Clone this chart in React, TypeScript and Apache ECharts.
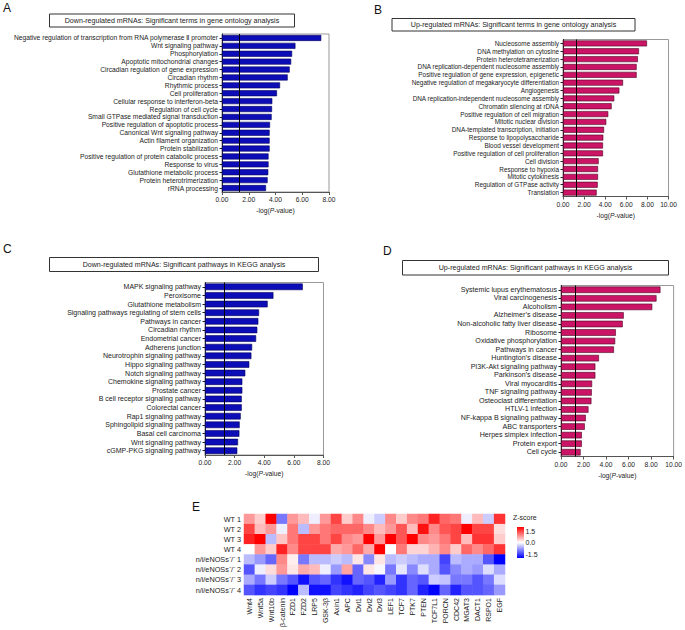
import React, { useEffect, useRef } from 'react';
import * as echarts from 'echarts';

// ---------- Data ----------
const THRESHOLD = 1.3; // -log10(0.05)

const A_TERMS = [
  'Negative regulation of transcription from RNA polymerase Ⅱ promoter',
  'Wnt signaling pathway',
  'Phosphorylation',
  'Apoptotic mitochondrial changes',
  'Circadian regulation of gene expression',
  'Circadian rhythm',
  'Rhythmic process',
  'Cell proliferation',
  'Cellular response to interferon-beta',
  'Regulation of cell cycle',
  'Small GTPase mediated signal transduction',
  'Positive regulation of apoptotic process',
  'Canonical Wnt signaling pathway',
  'Actin filament organization',
  'Protein stabilization',
  'Positive regulation of protein catabolic process',
  'Response to virus',
  'Glutathione metabolic process',
  'Protein heterotrimerization',
  'rRNA processing',
];
const A_VALUES = [7.42, 5.49, 5.24, 5.17, 5.06, 4.91, 4.34, 4.11, 3.76, 3.74, 3.71, 3.59, 3.56, 3.56, 3.56, 3.48, 3.48, 3.46, 3.41, 3.29];

const B_TERMS = [
  'Nucleosome assembly',
  'DNA methylation on cytosine',
  'Protein heterotetramerization',
  'DNA replication-dependent nucleosome assembly',
  'Positive regulation of gene expression, epigenetic',
  'Negative regulation of megakaryocyte differentiation',
  'Angiogenesis',
  'DNA replication-independent nucleosome assembly',
  'Chromatin silencing at rDNA',
  'Positive regulation of cell migration',
  'Mitotic nuclear division',
  'DNA-templated transcription, initiation',
  'Response to lipopolysaccharide',
  'Blood vessel development',
  'Positive regulation of cell proliferation',
  'Cell division',
  'Response to hypoxia',
  'Mitotic cytokinesis',
  'Regulation of GTPase activity',
  'Translation',
];
const B_VALUES = [7.96, 7.2, 7.1, 6.98, 6.98, 5.69, 5.34, 4.86, 4.61, 4.29, 4.1, 3.89, 3.82, 3.79, 3.79, 3.38, 3.32, 3.32, 3.29, 3.19];

const C_TERMS = [
  'MAPK signaling pathway',
  'Peroxisome',
  'Glutathione metabolism',
  'Signaling pathways regulating of stem cells',
  'Pathways in cancer',
  'Circadian rhythm',
  'Endometrial cancer',
  'Adherens junction',
  'Neurotrophin signaling pathway',
  'Hippo signaling pathway',
  'Notch signaling pathway',
  'Chemokine signaling pathway',
  'Prostate cancer',
  'B cell receptor signaling pathway',
  'Colorectal cancer',
  'Rap1 signaling pathway',
  'Sphingolipid signaling pathway',
  'Basal cell carcinoma',
  'Wnt signaling pathway',
  'cGMP-PKG signaling pathway',
];
const C_VALUES = [6.6, 4.62, 4.23, 3.65, 3.6, 3.53, 3.45, 3.18, 3.13, 2.99, 2.72, 2.52, 2.52, 2.48, 2.48, 2.41, 2.34, 2.32, 2.23, 2.18];

const D_TERMS = [
  'Systemic lupus erythematosus',
  'Viral carcinogenesis',
  'Alcoholism',
  'Alzheimer’s disease',
  'Non-alcoholic fatty liver disease',
  'Ribosome',
  'Oxidative phosphorylation',
  'Pathways in cancer',
  'Huntington’s disease',
  'PI3K-Akt signaling pathway',
  'Parkinson’s disease',
  'Viral myocarditis',
  'TNF signaling pathway',
  'Osteoclast differentiation',
  'HTLV-1 infection',
  'NF-kappa B signaling pathway',
  'ABC transporters',
  'Herpes simplex infection',
  'Protein export',
  'Cell cycle',
];
const D_VALUES = [8.83, 8.48, 8.1, 5.57, 5.48, 4.87, 4.81, 4.7, 3.37, 3.05, 3.05, 2.76, 2.73, 2.7, 2.44, 2.2, 2.11, 1.85, 1.85, 1.74];

const PANEL_TITLES = [
  'Down-regulated mRNAs: Significant terms in gene ontology analysis',
  'Up-regulated mRNAs: Significant terms in gene ontology analysis',
  'Down-regulated mRNAs: Significant pathways in KEGG analysis',
  'Up-regulated mRNAs: Significant pathways in KEGG analysis',
];

const HEAT_GENES = ['Wnt4', 'Wnt5a', 'Wnt10b', 'β-catenin', 'FZD1', 'FZD2', 'LRP5', 'GSK-3β', 'Axin1', 'APC', 'Dvl1', 'Dvl2', 'Dvl3', 'LEF1', 'TCF7', 'PTK7', 'PTEN', 'TCF7L1', 'PORCN', 'CDC42', 'MGAT3', 'DACT1', 'RSPO1', 'EGF'];
const HEAT_SAMPLES = ['WT 1', 'WT 2', 'WT 3', 'WT 4', 'n/i/eNOSs⁻/⁻ 1', 'n/i/eNOSs⁻/⁻ 2', 'n/i/eNOSs⁻/⁻ 3', 'n/i/eNOSs⁻/⁻ 4'];
const Z_WT1 = [0.6, 0.3, 1.6, -0.8, 0.6, 0.4, -0.1, 0.6, 1.1, 0.3, 0.7, -0.1, -0.3, 0.7, 0.3, 0.7, 0.8, 1.3, 0.9, 0.8, -0.1, 0.4, -0.3, 1.2];
const Z_WT2 = [1.1, 0.4, 0.6, -0.1, 0.8, -0.4, 0.6, 0.8, 0.9, 0.9, 0.9, 0.7, 0.4, 0.6, 1.0, 0.4, 1.4, 0.7, 1.0, 1.1, 1.6, 1.1, 1.1, 0.2];
const Z_WT3 = [1.3, 1.5, -0.4, 0.35, 0.8, 1.1, 1.1, 0.8, 1.1, 0.7, 0.6, 1.5, 0.6, 1.6, 1.0, 1.7, 0.7, 0.6, 0.8, 1.1, 0.4, 1.2, 1.2, 0.3];
const Z_WT4 = [0.0, 0.6, 0.3, 1.3, 0.7, 1.1, 1.1, 1.1, 0.5, 0.6, 0.9, 0.5, 1.5, 0.0, 0.8, 0.25, 0.25, 0.45, 0.7, 0.3, 0.9, 0.7, 0.9, 1.2];
const Z_KO1 = [-0.4, -0.6, -0.9, 0.7, 0.1, -0.8, -0.4, -0.4, -0.3, -0.4, 0.15, -0.7, 0.15, -0.4, -0.3, -0.4, -0.5, -0.5, -1.1, -0.4, -0.5, -0.5, -1.0, -1.6];
const Z_KO2 = [-1.0, -0.1, 0.2, 0.6, 0.15, 0.5, 0.4, -0.1, -0.6, 0.55, -0.9, 0.15, -0.05, -0.8, -0.15, -0.7, -0.2, -0.5, -1.0, -0.7, -0.5, -0.6, -0.2, -0.5];
const Z_KO3 = [-0.5, -0.8, -0.3, -0.8, -1.0, -1.4, -1.0, -0.9, -1.2, -1.4, -0.9, -1.0, -1.3, -0.6, -1.2, -0.9, -1.0, -0.3, -0.35, -0.8, -0.8, -1.0, -0.8, -0.2];
const Z_KO4 = [-1.0, -1.2, -1.1, -1.2, -1.6, -0.4, -1.4, -1.4, -1.1, -1.2, -1.3, -1.1, -1.0, -1.1, -1.2, -0.9, -1.3, -1.5, -0.9, -1.3, -1.0, -1.0, -0.9, -0.6];
const Z_ROWS = [Z_WT1, Z_WT2, Z_WT3, Z_WT4, Z_KO1, Z_KO2, Z_KO3, Z_KO4];
const Z_TICKS = ['1.5', '0.0', '-1.5'];

// ---------- Styling / layout ----------
const FONT = 'Liberation Sans, Arial, Helvetica, sans-serif';
const TXT = '#222';
const BLUE = '#0D0DB8';
const BLUE_BORDER = '#00005A';
const PINK = '#CC1466';
const PINK_BORDER = '#4A0020';

const GRIDS = [
  { left: 222, top: 34, width: 107, height: 158 },
  { left: 563, top: 39.5, width: 105.5, height: 157 },
  { left: 205, top: 282.5, width: 118.5, height: 172.5 },
  { left: 561, top: 285.5, width: 115.5, height: 171 },
  { left: 244, top: 514, width: 261, height: 84 },
];

function barAxes(idx: number, cats: string[], max: number, labelSize: number) {
  const x = {
    type: 'value', gridIndex: idx, min: 0, max, interval: 2,
    axisLabel: { formatter: (v: number) => v.toFixed(2), fontSize: 6.7, color: TXT, margin: 4, fontFamily: FONT },
    axisLine: { show: true, lineStyle: { color: '#555', width: 1 } },
    axisTick: { show: true, length: 3, lineStyle: { color: '#555' } },
    splitLine: { show: false },
    name: '-log({i|P}-value)', nameLocation: 'middle', nameGap: 15,
    nameTextStyle: { fontSize: 6.7, color: TXT, fontFamily: FONT, rich: { i: { fontStyle: 'italic', fontSize: 6.7, color: TXT, fontFamily: FONT } } },
  };
  const y = {
    type: 'category', gridIndex: idx, data: cats, inverse: true,
    axisLabel: { fontSize: labelSize, color: TXT, margin: 4, interval: 0, fontFamily: FONT },
    axisTick: { show: true, length: 2.5, alignWithLabel: true, lineStyle: { color: '#222' } },
    axisLine: { show: true, lineStyle: { color: '#222', width: 1 } },
  };
  return { x, y };
}

function barSeries(idx: number, vals: number[], color: string, border: string) {
  return {
    type: 'bar', xAxisIndex: idx, yAxisIndex: idx, data: vals, barCategoryGap: '24%',
    itemStyle: { color, borderColor: border, borderWidth: 0.6 },
    markLine: {
      symbol: 'none', silent: true, label: { show: false },
      lineStyle: { color: '#000', width: 1, type: 'solid' },
      data: [{ xAxis: THRESHOLD }],
    },
  };
}

function titleBox(x: number, y: number, w: number, h: number, text: string) {
  return {
    type: 'group', children: [
      { type: 'rect', shape: { x, y, width: w, height: h }, style: { fill: '#fff', stroke: '#333', lineWidth: 1 } },
      { type: 'text', x: x + w / 2, y: y + h / 2, style: { text, fontSize: 7.1, fill: TXT, fontFamily: FONT, align: 'center', verticalAlign: 'middle' } },
    ],
  };
}

function panelLetter(x: number, y: number, t: string) {
  return { type: 'text', x, y, style: { text: t, fontSize: 12, fill: '#111', fontFamily: FONT, align: 'left', verticalAlign: 'top' } };
}

export default function App() {
  const ref = useRef<HTMLDivElement>(null);
  useEffect(() => {
    if (!ref.current) return;
    const chart = echarts.init(ref.current, undefined, { renderer: 'svg' });
    const a = barAxes(0, A_TERMS, 8, 6.7);
    const b = barAxes(1, B_TERMS, 10, 6.4);
    const c = barAxes(2, C_TERMS, 7.0, 7.0);
    const d = barAxes(3, D_TERMS, 10, 7.1);

    const heatData: number[][] = [];
    Z_ROWS.forEach((row, r) => row.forEach((v, g) => heatData.push([g, r, v])));

    const gridOpts = GRIDS.map((g, i) => ({
      ...g,
      show: i < 4,
      borderColor: '#999',
      borderWidth: 1,
      backgroundColor: 'transparent',
      containLabel: false,
    }));

    const cbX = 517, cbY = 527, cbW = 7, cbH = 31;

    chart.setOption({
      animation: false,
      textStyle: { fontFamily: FONT },
      grid: gridOpts,
      xAxis: [a.x, b.x, { ...c.x, max: 8 }, d.x, {
        type: 'category', gridIndex: 4, data: HEAT_GENES,
        axisLabel: { rotate: 90, fontSize: 7, color: TXT, interval: 0, margin: 3, fontFamily: FONT },
        axisTick: { show: false }, axisLine: { show: false }, splitArea: { show: false },
      }],
      yAxis: [a.y, b.y, c.y, d.y, {
        type: 'category', gridIndex: 4, data: HEAT_SAMPLES, inverse: true,
        axisLabel: { fontSize: 7.3, color: TXT, interval: 0, margin: 3, fontFamily: FONT },
        axisTick: { show: false }, axisLine: { show: false }, splitArea: { show: false },
      }],
      visualMap: {
        show: false, type: 'continuous', min: -1.5, max: 1.5, seriesIndex: 4,
        inRange: { color: ['#0000FF', '#FFFFFF', '#FF0000'] },
      },
      series: [
        barSeries(0, A_VALUES, BLUE, BLUE_BORDER),
        barSeries(1, B_VALUES, PINK, PINK_BORDER),
        barSeries(2, C_VALUES, BLUE, BLUE_BORDER),
        barSeries(3, D_VALUES, PINK, PINK_BORDER),
        { type: 'heatmap', xAxisIndex: 4, yAxisIndex: 4, data: heatData, itemStyle: { borderWidth: 0 } },
      ],
      graphic: [
        panelLetter(3, 2, 'A'),
        panelLetter(374, 4, 'B'),
        panelLetter(3, 243, 'C'),
        panelLetter(383, 245, 'D'),
        panelLetter(192, 501, 'E'),
        titleBox(49.5, 14, 245, 13, PANEL_TITLES[0]),
        titleBox(392, 18.5, 243, 12.5, PANEL_TITLES[1]),
        titleBox(49.5, 257.5, 269, 14, PANEL_TITLES[2]),
        titleBox(402.5, 260.5, 266, 14.5, PANEL_TITLES[3]),
        { type: 'text', x: 513, y: 517.5, style: { text: 'Z-score', fontSize: 7, fill: TXT, fontFamily: FONT, align: 'left', verticalAlign: 'middle' } },
        {
          type: 'rect', shape: { x: cbX, y: cbY, width: cbW, height: cbH },
          style: {
            fill: {
              type: 'linear', x: 0, y: 0, x2: 0, y2: 1,
              colorStops: [
                { offset: 0, color: '#FF0000' },
                { offset: 0.5, color: '#FFFFFF' },
                { offset: 1, color: '#0000FF' },
              ],
            },
          },
        },
        ...Z_TICKS.map((t, i) => ({
          type: 'text', x: cbX + cbW + 1.5, y: cbY + 4 + i * (cbH - 8) / 2,
          style: { text: t, fontSize: 7, fill: TXT, fontFamily: FONT, align: 'left', verticalAlign: 'middle' },
        })),
      ],
    });
    return () => chart.dispose();
  }, []);
  return <div ref={ref} style={{ position: 'fixed', left: 0, top: 0, width: 685, height: 630, background: '#fff' }} />;
}
